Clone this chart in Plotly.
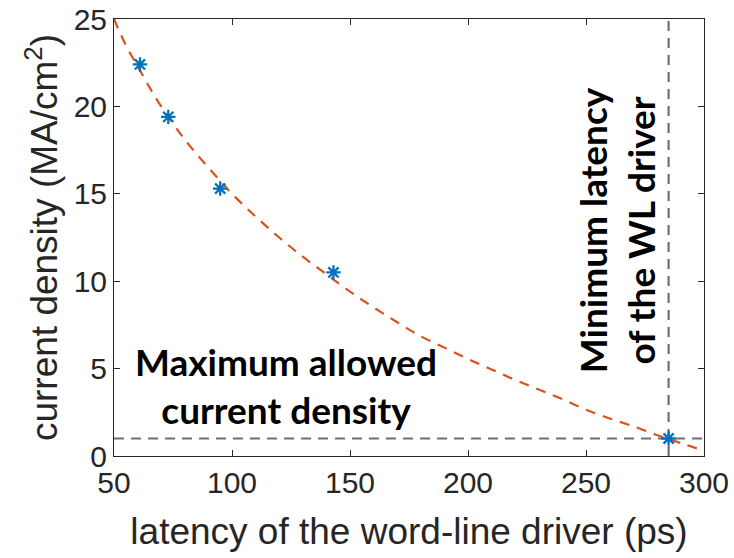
import plotly.graph_objects as go

# Measured operating points: word-line driver latency (ps) vs current density (MA/cm^2)
latency_ps = [61, 73, 95, 143, 285]
current_density = [22.4, 19.4, 15.3, 10.5, 1.0]

# Fitted trend curve
fit_latency = [50, 55, 60, 65, 70, 80, 90, 100, 110, 120, 130, 140, 150, 160, 170,
               180, 190, 200, 210, 220, 230, 240, 250, 260, 270, 280, 290, 300]
fit_density = [25.0, 23.5, 22.3, 21.1, 20.0, 18.1, 16.5, 15.0, 13.7, 12.5, 11.4, 10.4,
               9.4, 8.5, 7.65, 6.85, 6.2, 5.55, 4.95, 4.35, 3.8, 3.25, 2.65, 2.15,
               1.7, 1.2, 0.75, 0.3]

# Reference limits
max_allowed_density = 1.0
min_driver_latency = 285

x_range = [50, 300]
y_range = [0, 25]
x_ticks = [50, 100, 150, 200, 250, 300]
y_ticks = [0, 5, 10, 15, 20, 25]

AXIS_COLOR = "#262626"
GRAY = "#707070"

fig = go.Figure()

# Limit lines
fig.add_trace(go.Scatter(
    x=x_range, y=[max_allowed_density, max_allowed_density], mode="lines",
    line=dict(color=GRAY, width=2.2, dash="10px,7px"), hoverinfo="skip", showlegend=False))
fig.add_trace(go.Scatter(
    x=[min_driver_latency, min_driver_latency], y=y_range, mode="lines",
    line=dict(color=GRAY, width=2.2, dash="10px,7px"), hoverinfo="skip", showlegend=False))

# Fit curve
fig.add_trace(go.Scatter(
    x=fit_latency, y=fit_density, mode="lines", line_shape="spline",
    line=dict(color="#D95319", width=2.2, dash="10px,8px"), showlegend=False))

# Data points
fig.add_trace(go.Scatter(
    x=latency_ps, y=current_density, mode="markers",
    marker=dict(symbol="asterisk-open", size=12, color="#0072BD",
                line=dict(color="#0072BD", width=2.3)),
    showlegend=False))

ann_font = dict(family="Lato", size=37, color="black")
fig.add_annotation(x=123, y=4.03, xref="x", yref="y", showarrow=False,
                   text="<b>Maximum allowed<br>current density</b>",
                   font=ann_font, align="center")
fig.add_annotation(x=263, y=12.9, xref="x", yref="y", showarrow=False,
                   text="<b>Minimum latency<br>of the WL driver</b>",
                   font=ann_font, align="center", textangle=-90)

axis_common = dict(
    showgrid=False, zeroline=False, showline=True, linecolor=AXIS_COLOR, linewidth=1,
    mirror="ticks", ticks="inside", ticklen=6, tickcolor=AXIS_COLOR, tickwidth=1,
    tickfont=dict(family="Liberation Sans", size=30, color=AXIS_COLOR),
    automargin=False,
)
title_font = dict(family="Liberation Sans", size=37, color=AXIS_COLOR)

fig.update_xaxes(range=x_range, tickvals=x_ticks, **axis_common,
                 title=dict(text="latency of the word-line driver (ps)", standoff=20,
                            font=title_font))
fig.update_yaxes(range=y_range, tickvals=y_ticks, **axis_common,
                 title=dict(text="current density (MA/cm<sup>2</sup>)", standoff=4,
                            font=title_font))

fig.update_layout(
    width=734, height=558, autosize=False,
    margin=dict(l=114, r=30, t=19, b=102),
    paper_bgcolor="white", plot_bgcolor="white",
)

fig.write_html("out.html")
